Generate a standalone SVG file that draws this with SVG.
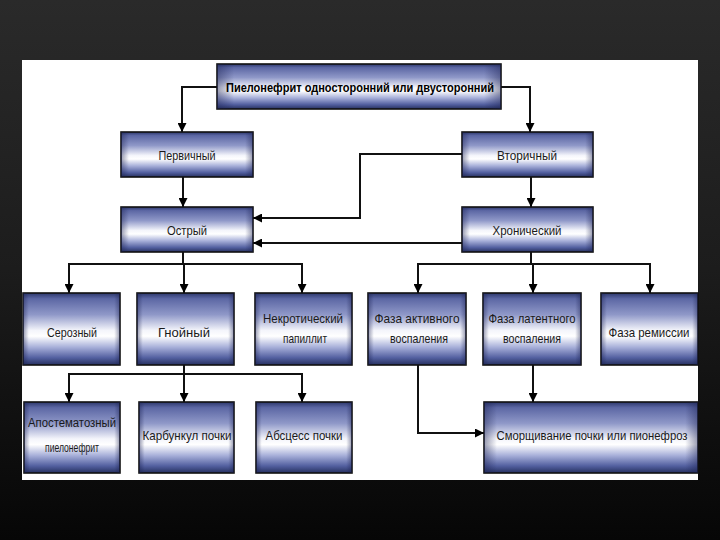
<svg xmlns="http://www.w3.org/2000/svg" width="720" height="540" viewBox="0 0 720 540">
<defs>
  <linearGradient id="bg" x1="0" y1="0" x2="0" y2="1">
    <stop offset="0" stop-color="#2a2a2a"/>
    <stop offset="0.5" stop-color="#1c1c1c"/>
    <stop offset="1" stop-color="#060606"/>
  </linearGradient>
  <linearGradient id="box" x1="0" y1="0" x2="0" y2="1">
    <stop offset="0" stop-color="#2c376c"/>
    <stop offset="0.08" stop-color="#5c67a4"/>
    <stop offset="0.3" stop-color="#8f98c8"/>
    <stop offset="0.52" stop-color="#f4f5fb"/>
    <stop offset="0.6" stop-color="#ffffff"/>
    <stop offset="0.75" stop-color="#a9b1da"/>
    <stop offset="0.9" stop-color="#5360a0"/>
    <stop offset="1" stop-color="#26305f"/>
  </linearGradient>
  <linearGradient id="edge" x1="0" y1="0" x2="1" y2="0">
    <stop offset="0" stop-color="#1a2050" stop-opacity="0.45"/>
    <stop offset="0.06" stop-color="#1a2050" stop-opacity="0"/>
    <stop offset="0.94" stop-color="#1a2050" stop-opacity="0"/>
    <stop offset="1" stop-color="#1a2050" stop-opacity="0.45"/>
  </linearGradient>
  <marker id="arr" viewBox="0 0 10 10" refX="10" refY="5" markerWidth="4.5" markerHeight="4.5" orient="auto" markerUnits="strokeWidth">
    <path d="M0,0 L10,5 L0,10 Z" fill="#000"/>
  </marker>
  <style>
    .b rect.f { fill: url(#box); stroke: #111; stroke-width: 1.6; }
    .b rect.e { fill: url(#edge); }
    .b text { font-family: "Liberation Sans", Arial, sans-serif; font-size: 13px; fill: #1a1a1a; text-anchor: middle; }
    .b text.t { font-weight: bold; font-size: 12px; fill: #000; }
    .b text.s { font-size: 12px; }
    .c path { fill: none; stroke: #111; stroke-width: 2; }
    .c path.a { marker-end: url(#arr); }
  </style>
</defs>
<rect x="0" y="0" width="720" height="540" fill="url(#bg)"/>
<rect x="22" y="60" width="676" height="420" fill="#ffffff"/>

<g id="connectors" class="c">
  <path class="a" d="M217,87 H182 V132"/>
  <path class="a" d="M501,87 H530 V132"/>
  <path class="a" d="M183,177 V207"/>
  <path class="a" d="M531,177 V207"/>
  <path class="a" d="M462,154 H360 V218 H253"/>
  <path class="a" d="M462,243 H253"/>
  <path d="M183,252 V264"/>
  <path d="M68,264 H303"/>
  <path class="a" d="M69,264 V293"/>
  <path class="a" d="M184,264 V293"/>
  <path class="a" d="M302,264 V293"/>
  <path d="M531,252 V264"/>
  <path d="M417,264 H651"/>
  <path class="a" d="M418,264 V293"/>
  <path class="a" d="M533,264 V293"/>
  <path class="a" d="M650,264 V293"/>
  <path d="M184,365 V374"/>
  <path d="M68,374 H303"/>
  <path class="a" d="M69,374 V402"/>
  <path class="a" d="M184,374 V402"/>
  <path class="a" d="M302,374 V402"/>
  <path class="a" d="M418,365 V433 H484"/>
  <path class="a" d="M533,365 V402"/>
</g>

<g id="n-top" class="b">
  <rect class="f" x="217" y="64" width="284" height="45"/><rect class="e" x="217" y="64" width="284" height="45"/>
  <text class="t" x="360" y="92" textLength="268" lengthAdjust="spacingAndGlyphs">Пиелонефрит односторонний или двусторонний</text>
</g>
<g id="n-primary" class="b">
  <rect class="f" x="121" y="132" width="132" height="45"/><rect class="e" x="121" y="132" width="132" height="45"/>
  <text x="187" y="160" textLength="57" lengthAdjust="spacingAndGlyphs">Первичный</text>
</g>
<g id="n-secondary" class="b">
  <rect class="f" x="462" y="132" width="131" height="45"/><rect class="e" x="462" y="132" width="131" height="45"/>
  <text x="527" y="160" textLength="60" lengthAdjust="spacingAndGlyphs">Вторичный</text>
</g>
<g id="n-acute" class="b">
  <rect class="f" x="121" y="207" width="132" height="45"/><rect class="e" x="121" y="207" width="132" height="45"/>
  <text x="187" y="235" textLength="40" lengthAdjust="spacingAndGlyphs">Острый</text>
</g>
<g id="n-chronic" class="b">
  <rect class="f" x="462" y="207" width="131" height="45"/><rect class="e" x="462" y="207" width="131" height="45"/>
  <text x="527" y="235" textLength="69" lengthAdjust="spacingAndGlyphs">Хронический</text>
</g>
<g id="n-serous" class="b">
  <rect class="f" x="23" y="293" width="97" height="72"/><rect class="e" x="23" y="293" width="97" height="72"/>
  <text x="72" y="337" textLength="50" lengthAdjust="spacingAndGlyphs">Серозный</text>
</g>
<g id="n-purulent" class="b">
  <rect class="f" x="137" y="293" width="97" height="72"/><rect class="e" x="137" y="293" width="97" height="72"/>
  <text x="184" y="337" textLength="52" lengthAdjust="spacingAndGlyphs">Гнойный</text>
</g>
<g id="n-necrotic" class="b">
  <rect class="f" x="255" y="293" width="97" height="72"/><rect class="e" x="255" y="293" width="97" height="72"/>
  <text x="303" y="323" textLength="80" lengthAdjust="spacingAndGlyphs">Некротический</text>
  <text x="305" y="343" textLength="44" lengthAdjust="spacingAndGlyphs">папиллит</text>
</g>
<g id="n-active" class="b">
  <rect class="f" x="368" y="293" width="98" height="72"/><rect class="e" x="368" y="293" width="98" height="72"/>
  <text x="417" y="323" textLength="85" lengthAdjust="spacingAndGlyphs">Фаза активного</text>
  <text x="419" y="343" textLength="58" lengthAdjust="spacingAndGlyphs">воспаления</text>
</g>
<g id="n-latent" class="b">
  <rect class="f" x="483" y="293" width="98" height="72"/><rect class="e" x="483" y="293" width="98" height="72"/>
  <text x="532" y="323" textLength="87" lengthAdjust="spacingAndGlyphs">Фаза латентного</text>
  <text x="532" y="343" textLength="58" lengthAdjust="spacingAndGlyphs">воспаления</text>
</g>
<g id="n-remission" class="b">
  <rect class="f" x="601" y="293" width="97" height="72"/><rect class="e" x="601" y="293" width="97" height="72"/>
  <text x="649" y="337" textLength="81" lengthAdjust="spacingAndGlyphs">Фаза ремиссии</text>
</g>
<g id="n-apostematous" class="b">
  <rect class="f" x="24" y="402" width="96" height="71"/><rect class="e" x="24" y="402" width="96" height="71"/>
  <text class="s" x="72" y="427" textLength="88" lengthAdjust="spacingAndGlyphs">Апостематозный</text>
  <text class="s" x="72" y="452" textLength="54" lengthAdjust="spacingAndGlyphs">пиелонефрит</text>
</g>
<g id="n-carbuncle" class="b">
  <rect class="f" x="139" y="402" width="95" height="71"/><rect class="e" x="139" y="402" width="95" height="71"/>
  <text x="187" y="440" textLength="89" lengthAdjust="spacingAndGlyphs">Карбункул почки</text>
</g>
<g id="n-abscess" class="b">
  <rect class="f" x="256" y="402" width="96" height="71"/><rect class="e" x="256" y="402" width="96" height="71"/>
  <text x="304" y="440" textLength="77" lengthAdjust="spacingAndGlyphs">Абсцесс почки</text>
</g>
<g id="n-shrink" class="b">
  <rect class="f" x="484" y="402" width="214" height="71"/><rect class="e" x="484" y="402" width="214" height="71"/>
  <text class="s" x="592" y="440" textLength="191" lengthAdjust="spacingAndGlyphs">Сморщивание почки или пионефроз</text>
</g>
</svg>
